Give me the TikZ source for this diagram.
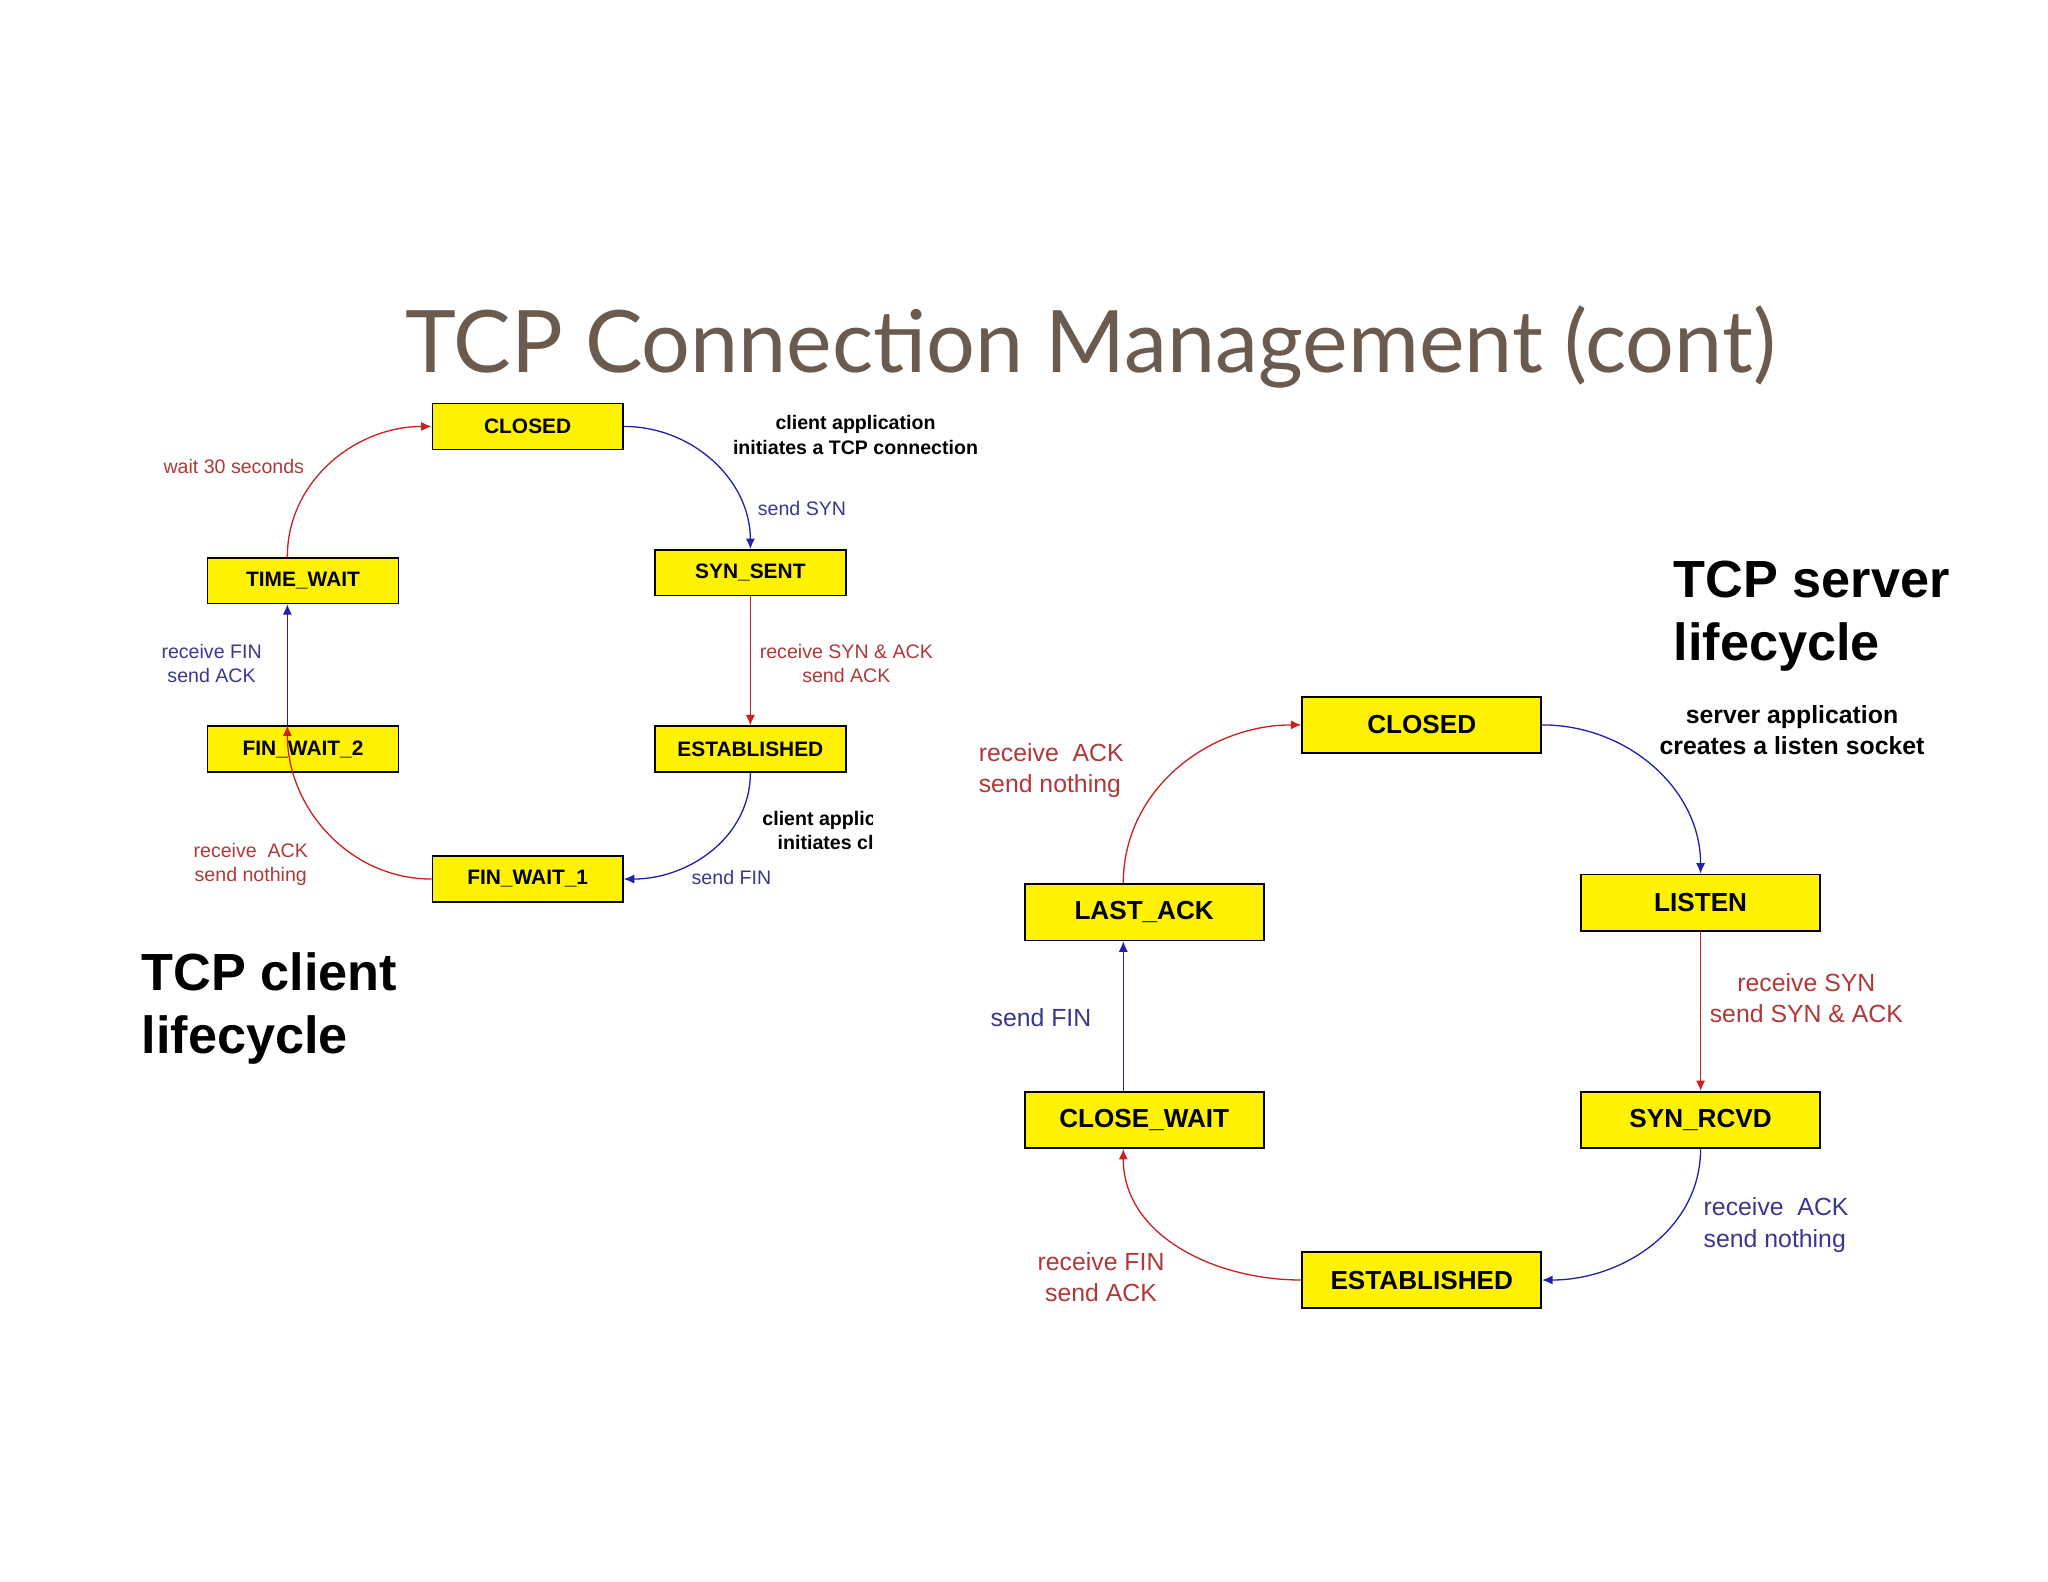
\documentclass[tikz,border=0pt]{standalone}
\usepackage{fontspec}
\setmainfont{Liberation Sans}
\newfontfamily\titlefont{Lato}
\usetikzlibrary{arrows.meta,calc}
\definecolor{ared}{HTML}{CC2020}
\definecolor{ablue}{HTML}{2020AA}
\definecolor{lred}{HTML}{B03838}
\definecolor{lblue}{HTML}{383890}
\definecolor{ttl}{HTML}{6B5A4E}
\begin{document}
\begin{tikzpicture}[x=0.5pt,y=-0.5pt,
 sb/.style={draw=black,fill=yellow,line width=0.6pt,minimum width=73pt,minimum height=17.5pt,inner sep=0pt,font=\fontsize{8}{9}\bfseries\selectfont},
 bb/.style={draw=black,fill=yellow,line width=0.7pt,minimum width=91.5pt,minimum height=21.5pt,inner sep=0pt,font=\fontsize{10}{11}\bfseries\selectfont},
 r/.style={draw=ared,line width=0.5pt,-{Latex[length=4pt,width=3.5pt]}},
 b/.style={draw=ablue,line width=0.5pt,-{Latex[length=4pt,width=3.5pt]}},
 ls/.style={align=center,inner sep=0pt,font=\fontsize{7.5}{9.3}\selectfont},
 lb/.style={align=center,inner sep=0pt,font=\fontsize{9.5}{12}\selectfont},
 big/.style={align=left,inner sep=0pt,anchor=west,font=\fontsize{20}{24}\bfseries\selectfont}]
\useasboundingbox (0,0) rectangle (1568,1211);
\fill[white] (0,0) rectangle (1568,1211);
\node[text=ttl,font=\titlefont\fontsize{33}{36}\selectfont] (title) at (835,266) {TCP Connection Management (cont)};
% left
\node[sb] (c1) at (404,326.5) {CLOSED};
\node[sb] (ss) at (574.5,438.5) {SYN\_SENT};
\node[sb] (e1) at (574.5,573.5) {ESTABLISHED};
\node[sb] (f1) at (404,673) {FIN\_WAIT\_1};
\node[sb] (f2) at (232,573.5) {FIN\_WAIT\_2};
\node[sb] (tw) at (232,444.5) {TIME\_WAIT};
\draw[b] (c1.east) to[out=0,in=90] (ss.north);
\draw[r] (ss.south) -- (e1.north);
\draw[b] (e1.south) to[out=-90,in=0] (f1.east);
\draw[r] (f1.west) to[out=180,in=-90] ([xshift=-6pt]f2.north);
\draw[b] ([xshift=-6pt]f2.north) -- ([xshift=-6pt]tw.south);
\draw[r] ([xshift=-6pt]tw.north) to[out=90,in=180] (c1.west);
\node[ls,font=\fontsize{7.5}{9.3}\bfseries\selectfont] (l1) at (655,333) {client application\\initiates a TCP connection};
\node[ls,text=lblue] (l2) at (614,389) {send SYN};
\node[ls,text=lred] (l3) at (648,508) {receive SYN \& ACK\\send ACK};
\begin{scope}
\clip (560,600) rectangle (668,660);
\node[ls,font=\fontsize{7.5}{9.3}\bfseries\selectfont] (l4) at (645,636) {client application\\initiates close};
\end{scope}
\node[ls,text=lblue] (l5) at (560,672) {send FIN};
\node[ls,text=lred] (l6) at (192,662) {receive\ \ ACK\\send nothing};
\node[ls,text=lblue] (l7) at (162,508) {receive FIN\\send ACK};
\node[ls,text=lred] (l8) at (179,357) {wait 30 seconds};
\node[big] (cl) at (108,772) {TCP client\\lifecycle};
% right
\node[bb] (c2) at (1088.5,555) {CLOSED};
\node[bb] (li) at (1302,691) {LISTEN};
\node[bb] (sr) at (1302,857.5) {SYN\_RCVD};
\node[bb] (e2) at (1088.5,980) {ESTABLISHED};
\node[bb] (cw) at (876,857.5) {CLOSE\_WAIT};
\node[bb] (la) at (876,698.5) {LAST\_ACK};
\draw[b] (c2.east) to[out=0,in=90] (li.north);
\draw[r] (li.south) -- (sr.north);
\draw[b] (sr.south) to[out=-90,in=0] (e2.east);
\draw[r] (e2.west) to[out=180,in=-90] ([xshift=-8pt]cw.south);
\draw[b] ([xshift=-8pt]cw.north) -- ([xshift=-8pt]la.south);
\draw[r] ([xshift=-8pt]la.north) to[out=90,in=180] (c2.west);
\node[lb,font=\fontsize{9.5}{12}\bfseries\selectfont] (m1) at (1372,559) {server application\\creates a listen socket};
\node[lb,text=lred] (m2) at (1383,764) {receive SYN\\send SYN \& ACK};
\node[lb,text=lblue,align=left,anchor=west] (m3) at (1304,938) {receive\ \ ACK\\send nothing};
\node[lb,text=lred] (m4) at (843,978) {receive FIN\\send ACK};
\node[lb,text=lblue] (m5) at (797,779) {send FIN};
\node[lb,text=lred,align=left,anchor=west] (m6) at (749,590) {receive\ \ ACK\\send nothing};
\node[big] (sl) at (1281,472) {TCP server\\lifecycle};
\end{tikzpicture}
\end{document}
